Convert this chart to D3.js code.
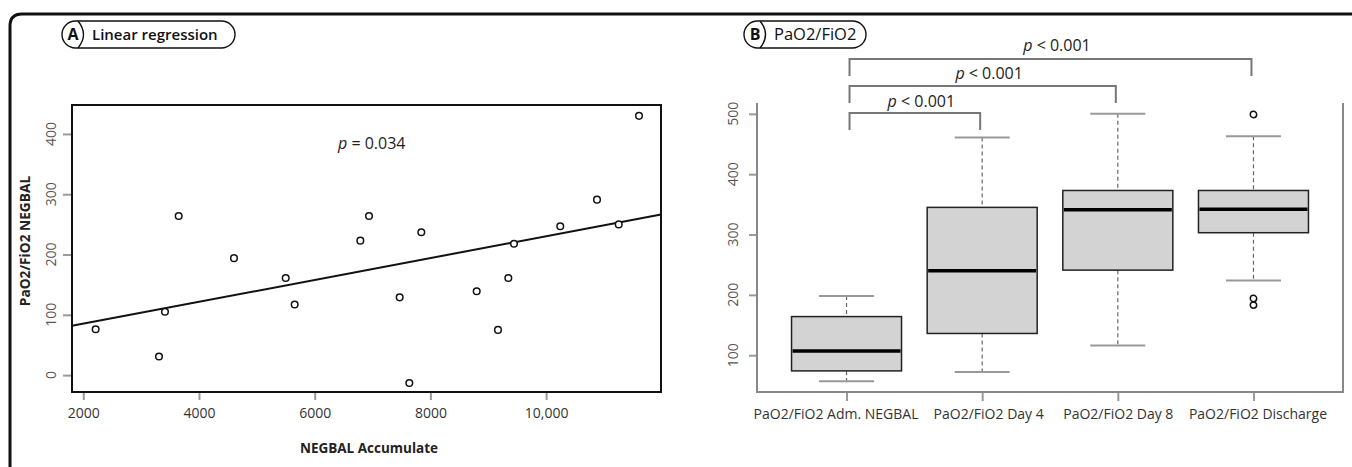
<!DOCTYPE html>
<html>
<head>
<meta charset="utf-8">
<title>NEGBAL and PaO2/FiO2</title>
<script src="https://d3js.org/d3.v7.min.js"></script>
<style>
  body { margin: 0; background: #fff; }
  text { font-family: "Open Sans", "Noto Sans", sans-serif; }
  .tick line { stroke: #999; stroke-width: 2px; }
  .tick text { fill: #333; font-size: 14px; }
  .ylab { fill: #555; font-size: 14px; }
</style>
</head>
<body>
<script>
// panel A: scatter + regression
var negbal = [2214, 3309, 3412, 3649, 4605, 5499, 5654, 6789, 6939, 7469, 7636, 7843,
              8800, 9168, 9347, 9445, 10245, 10880, 11255, 11606];
var pfNegbal = [76, 31, 105, 264, 194, 161, 117, 223, 264, 129, -13, 237,
                139, 75, 161, 218, 247, 291, 250, 430];
var regIntercept = 49, regSlope = 0.01814;
var xTicksA = [2000, 4000, 6000, 8000, 10000];
var yTicksA = [0, 100, 200, 300, 400];

// panel B: boxplots
var groups = ["PaO2/FiO2 Adm. NEGBAL", "PaO2/FiO2 Day 4", "PaO2/FiO2 Day 8", "PaO2/FiO2 Discharge"];
var whiskLo = [57, 72, 116, 224];
var q1 = [74, 136, 241, 303];
var median = [107, 240, 341, 342];
var q3 = [164, 345, 373, 373];
var whiskHi = [198, 461, 500, 463];
var outliers = [[], [], [], [499, 194, 183]];
var yTicksB = [100, 200, 300, 400, 500];
var comparisons = [[0, 1], [0, 2], [0, 3]];
var compLabel = "p < 0.001";

var W = 1352, H = 467;
var svg = d3.select("body").append("svg").attr("width", W).attr("height", H);

// outer frame (rounded top-left corner)
svg.append("path")
  .attr("d", "M10,470 L10,26 Q10,14 22,14 L1360,14")
  .attr("fill", "none").attr("stroke", "#111").attr("stroke-width", 3);

function pill(x, w, letter, title, size, weight) {
  var g = svg.append("g");
  g.append("rect").attr("x", x).attr("y", 21).attr("width", w).attr("height", 27)
    .attr("rx", 13.5).attr("fill", "#fff").attr("stroke", "#111").attr("stroke-width", 1.4);
  g.append("path").attr("d", "M" + (x + 16) + ",21 Q" + (x + 27) + ",34.5 " + (x + 16) + ",48")
    .attr("fill", "none").attr("stroke", "#111").attr("stroke-width", 1.4);
  g.append("text").attr("x", x + 11).attr("y", 40).attr("text-anchor", "middle")
    .style("font-size", "16px").style("font-weight", 700).attr("fill", "#111").text(letter);
  g.append("text").attr("x", x + 30).attr("y", 40)
    .style("font-size", size + "px").style("font-weight", weight).attr("fill", "#111").text(title);
}
pill(62, 173, "A", "Linear regression", 15, 600);
pill(744, 122, "B", "PaO2/FiO2", 16.5, 500);

// left axis: ticks from d3, vertical labels drawn beside them
function leftAxis(scale, ticks, xPos, off) {
  var g = svg.append("g").attr("transform", "translate(" + xPos + ",0)")
    .call(d3.axisLeft(scale).tickValues(ticks).tickSize(8).tickFormat(""));
  g.select(".domain").remove();
  svg.append("g").selectAll("text").data(ticks).enter().append("text")
    .attr("class", "ylab").attr("text-anchor", "middle").attr("dy", "0.35em")
    .attr("transform", function (d) { return "translate(" + (xPos - off) + "," + scale(d) + ") rotate(-90)"; })
    .text(function (d) { return d; });
}

// ---------- panel A ----------
var ax = { l: 72, r: 661, t: 105, b: 392 };
var x = d3.scaleLinear().domain([1805, 11986]).range([ax.l, ax.r]);
var y = d3.scaleLinear().domain([-28, 448]).range([ax.b, ax.t]);

var gxA = svg.append("g").attr("transform", "translate(0," + (ax.b + 1) + ")")
  .call(d3.axisBottom(x).tickValues(xTicksA).tickSize(7).tickPadding(8)
    .tickFormat(function (d) { return d < 10000 ? d : d3.format(",")(d); }));
gxA.select(".domain").remove();

leftAxis(y, yTicksA, ax.l - 1, 20);

svg.append("rect").attr("x", ax.l).attr("y", ax.t).attr("width", ax.r - ax.l).attr("height", ax.b - ax.t)
  .attr("fill", "none").attr("stroke", "#111").attr("stroke-width", 2);

svg.append("line")
  .attr("x1", x(1805)).attr("y1", y(regIntercept + regSlope * 1805))
  .attr("x2", x(11986)).attr("y2", y(regIntercept + regSlope * 11986))
  .attr("stroke", "#111").attr("stroke-width", 2);

svg.selectAll("circle.pt").data(negbal).enter().append("circle").attr("class", "pt")
  .attr("cx", function (d) { return x(d); })
  .attr("cy", function (d, i) { return y(pfNegbal[i]); })
  .attr("r", 3.3).attr("fill", "#fff").attr("stroke", "#111").attr("stroke-width", 1.5);

var pA = svg.append("text").attr("x", 338).attr("y", 149).style("font-size", "16px").attr("fill", "#222");
pA.append("tspan").style("font-style", "italic").text("p");
pA.append("tspan").text(" = 0.034");

svg.append("text").attr("x", 369).attr("y", 453).attr("text-anchor", "middle")
  .style("font-size", "13.5px").style("font-weight", 700).attr("fill", "#222").text("NEGBAL Accumulate");
svg.append("text").attr("transform", "translate(30,241) rotate(-90)").attr("text-anchor", "middle")
  .style("font-size", "13.7px").style("font-weight", 700).attr("fill", "#222").text("PaO2/FiO2 NEGBAL");

// ---------- panel B ----------
var bx = { l: 757, r: 1343, t: 103, b: 392 };
var xb = d3.scalePoint().domain(groups).range([bx.l, bx.r]).padding(0.66);
var yb = d3.scaleLinear().domain([39, 518]).range([bx.b, bx.t]);
var boxW = 110;

leftAxis(yb, yTicksB, bx.l, 24);

var gxB = svg.append("g").attr("transform", "translate(0," + bx.b + ")")
  .call(d3.axisBottom(xb).tickSize(9).tickPadding(8));
gxB.select(".domain").remove();
gxB.selectAll("text").attr("fill", "#222")
  .attr("dx", function (d, i) { return [-11, 6, 0, 4][i]; });

svg.append("path")
  .attr("d", "M" + bx.l + "," + bx.t + " L" + bx.l + "," + bx.b + " L" + bx.r + "," + bx.b + " L" + bx.r + "," + bx.t)
  .attr("fill", "none").attr("stroke", "#888").attr("stroke-width", 2);

var boxes = svg.selectAll("g.box").data(groups).enter().append("g").attr("class", "box")
  .attr("transform", function (d) { return "translate(" + xb(d) + ",0)"; });

boxes.append("line").attr("y1", function (d, i) { return yb(whiskHi[i]); })
  .attr("y2", function (d, i) { return yb(q3[i]); })
  .attr("stroke", "#666").attr("stroke-width", 1.2).attr("stroke-dasharray", "4,3");
boxes.append("line").attr("y1", function (d, i) { return yb(q1[i]); })
  .attr("y2", function (d, i) { return yb(whiskLo[i]); })
  .attr("stroke", "#666").attr("stroke-width", 1.2).attr("stroke-dasharray", "4,3");
[whiskHi, whiskLo].forEach(function (arr) {
  boxes.append("line").attr("x1", -boxW / 4).attr("x2", boxW / 4)
    .attr("y1", function (d, i) { return yb(arr[i]); }).attr("y2", function (d, i) { return yb(arr[i]); })
    .attr("stroke", "#999").attr("stroke-width", 2);
});
boxes.append("rect").attr("x", -boxW / 2).attr("width", boxW)
  .attr("y", function (d, i) { return yb(q3[i]); })
  .attr("height", function (d, i) { return yb(q1[i]) - yb(q3[i]); })
  .attr("fill", "#d3d3d3").attr("stroke", "#222").attr("stroke-width", 1.5);
boxes.append("line").attr("x1", -boxW / 2 + 1).attr("x2", boxW / 2 - 1)
  .attr("y1", function (d, i) { return yb(median[i]); }).attr("y2", function (d, i) { return yb(median[i]); })
  .attr("stroke", "#000").attr("stroke-width", 3.5);
boxes.each(function (d, i) {
  d3.select(this).selectAll("circle").data(outliers[i]).enter().append("circle")
    .attr("cx", 0).attr("cy", function (v) { return yb(v); }).attr("r", 3.2)
    .attr("fill", "none").attr("stroke", "#111").attr("stroke-width", 1.5);
});

// significance brackets
var br = svg.selectAll("g.br").data(comparisons).enter().append("g").attr("class", "br");
br.append("path")
  .attr("d", function (c, k) {
    var yy = 113 - k * 27, x1 = xb(groups[c[0]]) + 3, x2 = xb(groups[c[1]]) - 2;
    return "M" + x1 + "," + (yy + 17) + " L" + x1 + "," + yy + " L" + x2 + "," + yy + " L" + x2 + "," + (yy + 17);
  })
  .attr("fill", "none").attr("stroke", "#777").attr("stroke-width", 2);
var bt = br.append("text")
  .attr("x", function (c) { return (xb(groups[c[0]]) + xb(groups[c[1]])) / 2 + 7; })
  .attr("y", function (c, k) { return 107 - k * 28; })
  .attr("text-anchor", "middle").style("font-size", "16px").attr("fill", "#222");
bt.append("tspan").style("font-style", "italic").text(compLabel.slice(0, 1));
bt.append("tspan").text(compLabel.slice(1));
</script>
</body>
</html>
